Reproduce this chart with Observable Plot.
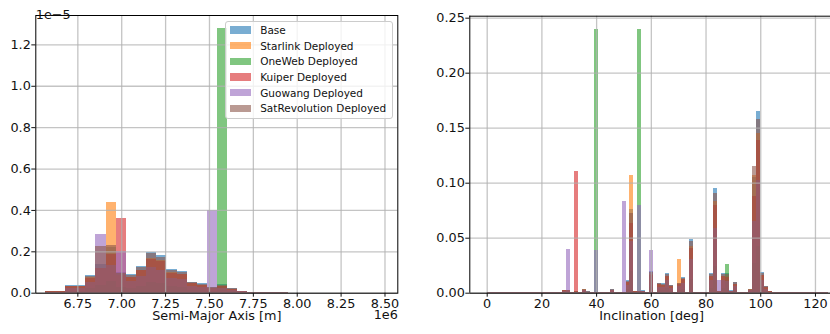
<!DOCTYPE html>
<html>
<head>
<meta charset="utf-8">
<script src="https://cdn.jsdelivr.net/npm/d3@7"></script>
<script src="https://cdn.jsdelivr.net/npm/@observablehq/plot@0.6"></script>
<style>
  html, body { margin: 0; padding: 0; background: #fff; }
  #wrap { position: relative; width: 830px; height: 334px; overflow: hidden; background: #fff; font-family: "DejaVu Sans", sans-serif; }
  #left, #right { position: absolute; top: 0; }
  #left { left: 0; }
  #right { left: 415px; }
  #legend { position: absolute; left: 225px; top: 21px; width: 166px; height: 96px; background: rgba(255,255,255,0.8); border: 1px solid #cccccc; border-radius: 3px; box-sizing: content-box; }
  .row { position: absolute; left: 0; height: 14px; display: flex; align-items: center; font-size: 10.5px; color: #111; white-space: nowrap; }
  .sw { width: 21.7px; height: 7.5px; margin-left: 3.5px; margin-right: 9px; }
  svg text { font-family: "DejaVu Sans", sans-serif; }
</style>
</head>
<body>
<div id="wrap">
  <div id="left"></div>
  <div id="right"></div>
  <div id="legend"></div>
</div>
<script>
// ---------- series ----------
const seriesNames = ["Base", "Starlink Deployed", "OneWeb Deployed", "Kuiper Deployed", "Guowang Deployed", "SatRevolution Deployed"];
const seriesColors = ["#1f77b4", "#ff7f0e", "#2ca02c", "#d62728", "#9467bd", "#8c564b"];

// ---------- Semi-major axis histogram (x in 1e6 m, density in 1e-5) ----------
const smaBinStart = [6.5644, 6.6222, 6.6799, 6.7377, 6.7954, 6.8532, 6.9109, 6.9687, 7.0264, 7.0842, 7.1419, 7.1997,
                     7.2574, 7.3152, 7.3729, 7.4307, 7.4884, 7.5462, 7.6039, 7.6617, 7.7194, 7.7772, 7.8349, 7.8927];
const smaBinWidth = 0.05775;
const smaBase     = [0.008,0.008,0.036,0.036,0.086,0.14,0.22,0.10,0.09,0.128,0.197,0.181,0.115,0.105,0.053,0.045,0.028,0.04,0.022,0.01,0.005,0.004,0.003,0.002];
const smaStarlink = [0.007,0.007,0.031,0.031,0.074,0.12,0.44,0.086,0.077,0.11,0.169,0.156,0.099,0.09,0.046,0.039,0.024,0.034,0.019,0.009,0.004,0.003,0.003,0.002];
const smaOneWeb   = [0.002,0.002,0.009,0.009,0.022,0.036,0.057,0.026,0.023,0.033,0.051,0.047,0.03,0.027,0.014,0.012,0.007,1.278,0.006,0.003,0.001,0.001,0.001,0.001];
const smaKuiper   = [0.007,0.007,0.03,0.03,0.072,0.118,0.185,0.362,0.076,0.108,0.165,0.152,0.097,0.088,0.045,0.038,0.024,0.034,0.018,0.008,0.004,0.003,0.003,0.002];
const smaGuowang  = [0.005,0.005,0.022,0.022,0.053,0.284,0.136,0.2,0.056,0.079,0.122,0.112,0.071,0.065,0.033,0.028,0.40,0.025,0.014,0.006,0.003,0.002,0.002,0.001];
const smaSatRev   = [0.008,0.008,0.034,0.034,0.082,0.226,0.23,0.096,0.086,0.122,0.19,0.173,0.11,0.1,0.051,0.043,0.027,0.038,0.021,0.01,0.005,0.004,0.003,0.002];
const smaXTicks = [6.75, 7.0, 7.25, 7.5, 7.75, 8.0, 8.25, 8.5];
const smaYTicks = [0, 0.2, 0.4, 0.6, 0.8, 1.0, 1.2];
const smaXDomain = [6.5105, 8.573];
const smaYDomain = [0, 1.342];

// ---------- Inclination histogram (deg, density) ----------
const incBinStart = [0, 1.45, 2.9, 4.35, 5.8, 7.25, 8.7, 10.15, 11.6, 13.05,
  14.5, 15.95, 17.4, 18.85, 20.3, 21.75, 23.2, 24.65, 26.1, 27.55,
  29, 30.45, 31.9, 33.35, 34.8, 36.25, 37.7, 39.15, 40.6, 42.05,
  43.5, 44.95, 46.4, 47.85, 49.3, 50.75, 52.2, 53.65, 55.1, 56.55,
  58, 59.45, 60.9, 62.35, 63.8, 65.25, 66.7, 68.15, 69.6, 71.05,
  72.5, 73.95, 75.4, 76.85, 78.3, 79.75, 81.2, 82.65, 84.1, 85.55,
  87, 88.45, 89.9, 91.35, 92.8, 94.25, 95.7, 97.15, 98.6, 100.05,
  101.5, 102.95, 104.4, 105.85, 107.3, 108.75, 110.2, 111.65, 113.1, 114.55,
  116, 117.45, 118.9, 120.35, 121.8, 123.25];
const incBinWidth = 1.45;
const incBase = [0.0005,0.0005,0.0005,0.0005,0.0005,0.0005,0.0005,0.0005,0.0005,0.0005,
  0.0005,0.0005,0.0005,0.0005,0.0005,0.0005,0.0005,0.0005,0.0005,0.0025,
  0.0025,0.0005,0.0015,0.0005,0.0035,0.0012,0.0005,0.0005,0.0005,0.0005,
  0.0005,0.0034,0.0005,0.0005,0.001,0.0115,0.076,0.0015,0.0015,0.002,
  0.0005,0.0197,0.0005,0.009,0.0084,0.018,0.0072,0.0005,0.0092,0.0145,
  0.001,0.0488,0.001,0.0005,0.0005,0.001,0.018,0.095,0.0015,0.018,
  0.0175,0.002,0.0097,0.0005,0.0005,0.0005,0.0035,0.105,0.165,0.0188,
  0.0062,0.0015,0.0005,0.0005,0.0005,0.0005,0.0005,0.0005,0.0005,0.0005,
  0.0005,0.0005,0.0005,0.0005,0.0005,0.0005];
const incStarlink = [0.0004,0.0004,0.0004,0.0004,0.0004,0.0004,0.0004,0.0004,0.0004,0.0004,
  0.0004,0.0004,0.0004,0.0004,0.0004,0.0004,0.0004,0.0004,0.0004,0.0022,
  0.0022,0.0004,0.0013,0.0004,0.003,0.001,0.0004,0.0004,0.0004,0.0004,
  0.0004,0.0029,0.0004,0.0004,0.0009,0.0099,0.107,0.0013,0.0013,0.0017,
  0.0004,0.0169,0.0004,0.0077,0.0072,0.0155,0.0062,0.0004,0.0306,0.0125,
  0.0009,0.042,0.0009,0.0004,0.0004,0.0009,0.0155,0.083,0.0013,0.0155,
  0.015,0.0017,0.0083,0.0004,0.0004,0.0004,0.003,0.107,0.145,0.0162,
  0.0053,0.0013,0.0004,0.0004,0.0004,0.0004,0.0004,0.0004,0.0004,0.0004,
  0.0004,0.0004,0.0004,0.0004,0.0004,0.0004];
const incOneWeb = [0.0001,0.0001,0.0001,0.0001,0.0001,0.0001,0.0001,0.0001,0.0001,0.0001,
  0.0001,0.0001,0.0001,0.0001,0.0001,0.0001,0.0001,0.0001,0.0001,0.0007,
  0.0007,0.0001,0.0004,0.0001,0.0009,0.0003,0.0001,0.2397,0.0001,0.0001,
  0.0001,0.0009,0.0001,0.0001,0.0003,0.003,0.0198,0.0004,0.2397,0.0005,
  0.0001,0.0051,0.0001,0.0023,0.0022,0.0047,0.0019,0.0001,0.0024,0.0038,
  0.0003,0.0127,0.0003,0.0001,0.0001,0.0003,0.0047,0.0247,0.0004,0.0047,
  0.026,0.0005,0.0025,0.0001,0.0001,0.0001,0.0009,0.0273,0.0429,0.0049,
  0.0016,0.0004,0.0001,0.0001,0.0001,0.0001,0.0001,0.0001,0.0001,0.0001,
  0.0001,0.0001,0.0001,0.0001,0.0001,0.0001];
const incKuiper = [0.0004,0.0004,0.0004,0.0004,0.0004,0.0004,0.0004,0.0004,0.0004,0.0004,
  0.0004,0.0004,0.0004,0.0004,0.0004,0.0004,0.0004,0.0004,0.0004,0.0021,
  0.0021,0.0004,0.1106,0.0004,0.0029,0.001,0.0004,0.0004,0.0004,0.0004,
  0.0004,0.0029,0.0004,0.0004,0.0008,0.0097,0.0638,0.0013,0.0013,0.0017,
  0.0004,0.0165,0.0004,0.0076,0.0071,0.0151,0.006,0.0004,0.0077,0.0122,
  0.0008,0.041,0.0008,0.0004,0.0004,0.0008,0.0151,0.0798,0.0013,0.0151,
  0.0147,0.0017,0.0081,0.0004,0.0004,0.0004,0.0029,0.0882,0.1386,0.0158,
  0.0052,0.0013,0.0004,0.0004,0.0004,0.0004,0.0004,0.0004,0.0004,0.0004,
  0.0004,0.0004,0.0004,0.0004,0.0004,0.0004];
const incGuowang = [0.0003,0.0003,0.0003,0.0003,0.0003,0.0003,0.0003,0.0003,0.0003,0.0003,
  0.0003,0.0003,0.0003,0.0003,0.0003,0.0003,0.0003,0.0003,0.0003,0.0016,
  0.0397,0.0003,0.0009,0.0003,0.0022,0.0007,0.0003,0.0388,0.0003,0.0003,
  0.0003,0.0021,0.0003,0.0003,0.0834,0.0071,0.0471,0.0009,0.0797,0.0012,
  0.0003,0.0388,0.0003,0.0056,0.0052,0.0112,0.0045,0.0003,0.0057,0.009,
  0.0006,0.0303,0.0006,0.0003,0.0003,0.0006,0.0112,0.0589,0.0115,0.0112,
  0.0109,0.0012,0.006,0.0003,0.0003,0.0003,0.0022,0.0651,0.1023,0.0117,
  0.0038,0.0009,0.0003,0.0003,0.0003,0.0003,0.0003,0.0003,0.0003,0.0003,
  0.0003,0.0003,0.0003,0.0003,0.0003,0.0003];
const incSatRev = [0.0005,0.0005,0.0005,0.0005,0.0005,0.0005,0.0005,0.0005,0.0005,0.0005,
  0.0005,0.0005,0.0005,0.0005,0.0005,0.0005,0.0005,0.0005,0.0005,0.0024,
  0.0024,0.0005,0.0014,0.0005,0.0033,0.0011,0.0005,0.0005,0.0005,0.0005,
  0.0005,0.0032,0.0005,0.0005,0.001,0.011,0.0726,0.0014,0.0014,0.0019,
  0.0005,0.0188,0.0005,0.0086,0.008,0.0172,0.0069,0.0005,0.0088,0.0138,
  0.001,0.0466,0.001,0.0005,0.0005,0.001,0.0172,0.0907,0.0014,0.0172,
  0.0167,0.0019,0.0093,0.0005,0.0005,0.0005,0.0033,0.1155,0.1576,0.018,
  0.0059,0.0014,0.0005,0.0005,0.0005,0.0005,0.0005,0.0005,0.0005,0.0005,
  0.0005,0.0005,0.0005,0.0005,0.0005,0.0005];
const incXTicks = [0, 20, 40, 60, 80, 100, 120];
const incYTicks = [0, 0.05, 0.10, 0.15, 0.20, 0.25];
const incXDomain = [-6.36, 125.5];
const incYDomain = [0, 0.2518];

// ---------- build ----------
const gridStyle = {stroke: "#b0b0b0", strokeOpacity: 0.75, strokeWidth: 1.3};
const textColor = "#111";
const FS = 12.8;

function histMarks(starts, width, seriesValues) {
  return seriesValues.map((vals, k) =>
    Plot.rectY(vals.map((v, i) => ({x1: starts[i], x2: starts[i] + width, y: v})), {
      x1: "x1", x2: "x2", y: "y",
      fill: seriesColors[k], fillOpacity: 0.6, shapeRendering: "crispEdges"
    })
  );
}

const leftPlot = Plot.plot({
  width: 415, height: 334,
  marginLeft: 35.3, marginRight: 17.7, marginTop: 15, marginBottom: 41.3,
  style: {fontFamily: "DejaVu Sans", fontSize: FS + "px", color: textColor, background: "transparent"},
  x: {domain: smaXDomain, axis: null},
  y: {domain: smaYDomain, axis: null},
  marks: [
    ...histMarks(smaBinStart, smaBinWidth, [smaBase, smaStarlink, smaOneWeb, smaKuiper, smaGuowang, smaSatRev]),
    Plot.ruleX(smaXTicks, gridStyle),
    Plot.ruleY(smaYTicks, gridStyle),
    Plot.frame({stroke: "#000", strokeWidth: 1}),
    Plot.axisX(smaXTicks, {tickFormat: d3.format(".2f"), tickSize: 4, tickPadding: 2.2, label: null, fontSize: FS}),
    Plot.axisY(smaYTicks, {tickFormat: d3.format(".1f"), tickSize: 4, tickPadding: 1, label: null, fontSize: FS}),
    Plot.text(["Semi-Major Axis [m]"], {text: d => d, frameAnchor: "bottom", dy: 26.4, fontSize: FS, fill: textColor}),
    Plot.text(["1e6"], {text: d => d, frameAnchor: "bottom-right", textAnchor: "end", dy: 26.2, fontSize: FS, fill: textColor}),
    Plot.text(["1e\u22125"], {text: d => d, frameAnchor: "top-left", textAnchor: "start", dy: -5.7, fontSize: FS, fill: textColor})
  ]
});
document.getElementById("left").appendChild(leftPlot);

const rightPlot = Plot.plot({
  width: 415, height: 334,
  marginLeft: 54.3, marginRight: 0, marginTop: 15.7, marginBottom: 41.3,
  style: {fontFamily: "DejaVu Sans", fontSize: FS + "px", color: textColor, background: "transparent"},
  x: {domain: incXDomain, axis: null},
  y: {domain: incYDomain, axis: null},
  marks: [
    ...histMarks(incBinStart, incBinWidth, [incBase, incStarlink, incOneWeb, incKuiper, incGuowang, incSatRev]),
    Plot.ruleX(incXTicks, gridStyle),
    Plot.ruleY(incYTicks, gridStyle),
    Plot.ruleY([incYDomain[0], incYDomain[1]], {stroke: "#000", strokeWidth: 1}),
    Plot.ruleX([incXDomain[0]], {stroke: "#000", strokeWidth: 1}),
    Plot.axisX(incXTicks, {tickFormat: d3.format("d"), tickSize: 4, tickPadding: 2.2, label: null, fontSize: FS}),
    Plot.axisY(incYTicks, {tickFormat: d3.format(".2f"), tickSize: 4, tickPadding: 1, label: null, fontSize: FS}),
    Plot.text(["Inclination [deg]"], {text: d => d, frameAnchor: "bottom", dx: 1.5, dy: 26.4, fontSize: FS, fill: textColor})
  ]
});
document.getElementById("right").appendChild(rightPlot);

// ---------- legend ----------
const legend = document.getElementById("legend");
seriesNames.forEach((name, k) => {
  const row = document.createElement("div");
  row.className = "row";
  row.style.top = (1 + k * 15.67) + "px";
  const sw = document.createElement("div");
  sw.className = "sw";
  sw.style.background = seriesColors[k];
  sw.style.opacity = 0.6;
  const tx = document.createElement("span");
  tx.textContent = name;
  row.appendChild(sw);
  row.appendChild(tx);
  legend.appendChild(row);
});
</script>
</body>
</html>
